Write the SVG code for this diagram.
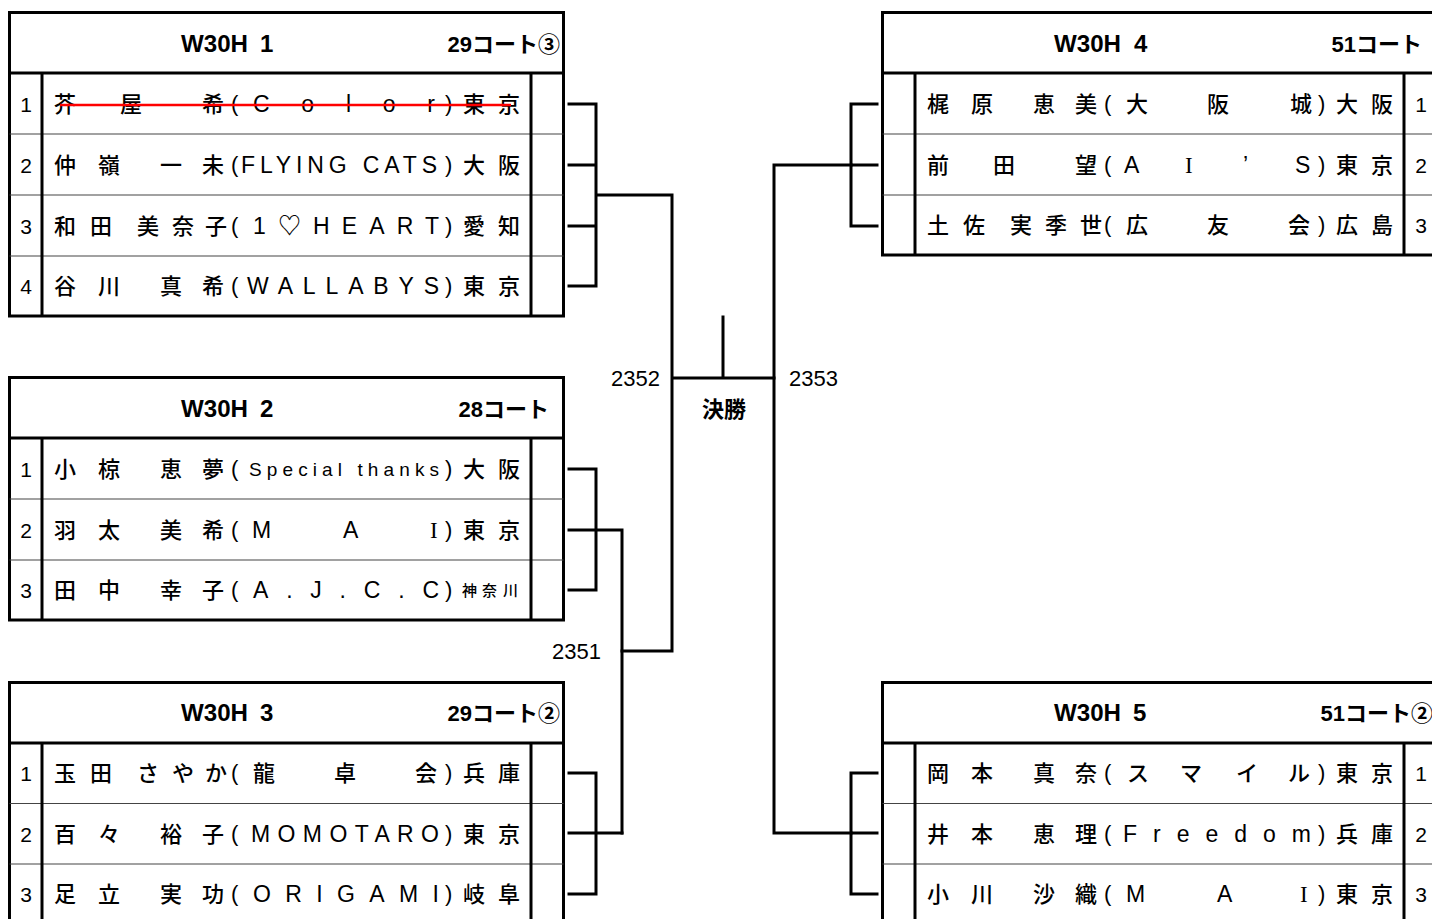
<svg xmlns="http://www.w3.org/2000/svg" width="1432" height="919" viewBox="0 0 1432 919">
<style>
.frame{fill:#fff;stroke:#000;stroke-width:3}
.thick{stroke:#000;stroke-width:3}
.thin{stroke:#444;stroke-width:1.2}
.con{fill:none;stroke:#000;stroke-width:3;stroke-linecap:square}
.t{font-family:"Liberation Sans","Noto Sans CJK JP",sans-serif;font-size:22px;font-weight:500;fill:#000}
.b{font-weight:bold}
.num{font-size:21px;font-weight:normal}
.lat{font-size:23px}
.sm{font-size:19px}
.pr{font-size:15px}
.sf{font-family:"Liberation Serif","Noto Sans CJK JP",serif;font-size:23px}
.lbl{font-size:22px;font-weight:normal}
.hd{font-size:24px}
</style>
<rect width="1432" height="919" fill="#fff"/>

<g id="connectors">
<path class="con" d="M569,104H596M569,165H596M569,226H596M569,286H596M596,104V286M596,195H672M672,195V651M622,651H672M672,378H774M723,317V378"/>
<path class="con" d="M569,469H596M569,530H596M569,590H596M596,469V590M596,530H622M622,530V833"/>
<path class="con" d="M569,773H596M569,833H596M569,894H596M596,773V894M596,833H622"/>
<path class="con" d="M774,165V833M774,165H851M774,833H851"/>
<path class="con" d="M851,104H877M851,165H877M851,226H877M851,104V226"/>
<path class="con" d="M851,773H877M851,833H877M851,894H877M851,773V894"/>
</g>

<g id="labels">
<text class="t lbl" x="660" y="386" text-anchor="end">2352</text>
<text class="t lbl" x="789" y="386">2353</text>
<text class="t lbl" x="601" y="659" text-anchor="end">2351</text>
<text class="t b" x="724" y="417" text-anchor="middle" font-size="23">決勝</text>
</g>

<g id="w30h1">
<rect class="frame" x="9.5" y="12.5" width="554" height="303.5"/>
<line class="thin" x1="9.5" y1="134" x2="563.5" y2="134"/>
<line class="thin" x1="9.5" y1="195" x2="563.5" y2="195"/>
<line class="thin" x1="9.5" y1="256" x2="563.5" y2="256"/>
<line class="thick" x1="9.5" y1="73" x2="563.5" y2="73"/>
<line class="thick" x1="42" y1="73" x2="42" y2="316"/>
<line class="thick" x1="531" y1="73" x2="531" y2="316"/>
<text class="t b hd" y="52"><tspan x="181" textLength="67" lengthAdjust="spacingAndGlyphs">W30H</tspan><tspan x="260">1</tspan></text>
<text class="t b" x="560" y="52" text-anchor="end">29コート③</text>
<text class="t num" x="26" y="112" text-anchor="middle">1</text>
<text class="t num" x="26" y="173" text-anchor="middle">2</text>
<text class="t num" x="26" y="234" text-anchor="middle">3</text>
<text class="t num" x="26" y="294" text-anchor="middle">4</text>
<text class="t" x="54 120 202" y="112">芥屋希</text>
<text class="t" x="231" y="111">(</text>
<text class="t lat" x="253" y="112" textLength="182" lengthAdjust="spacing">Color</text>
<text class="t" x="445" y="111">)</text>
<text class="t" x="463 498" y="112">東京</text>
<line x1="60" y1="105" x2="511" y2="105" stroke="#f00" stroke-width="2.5"/>
<text class="t" x="54 98 160 202" y="173">仲嶺一未</text>
<text class="t" x="231" y="172">(</text>
<text class="t lat" x="241" y="173" textLength="196" lengthAdjust="spacing">FLYING CATS</text>
<text class="t" x="445" y="172">)</text>
<text class="t" x="463 498" y="173">大阪</text>
<text class="t" x="54 90 137 172 205" y="234">和田美奈子</text>
<text class="t" x="231" y="233">(</text>
<text class="t lat" x="253" y="234" textLength="186" lengthAdjust="spacing">1♡HEART</text>
<text class="t" x="445" y="233">)</text>
<text class="t" x="463 498" y="234">愛知</text>
<text class="t" x="54 98 160 202" y="294">谷川真希</text>
<text class="t" x="231" y="293">(</text>
<text class="t lat" x="247" y="294" textLength="192" lengthAdjust="spacing">WALLABYS</text>
<text class="t" x="445" y="293">)</text>
<text class="t" x="463 498" y="294">東京</text>
</g>

<g id="w30h2">
<rect class="frame" x="9.5" y="377.5" width="554" height="242.5"/>
<line class="thin" x1="9.5" y1="499" x2="563.5" y2="499"/>
<line class="thin" x1="9.5" y1="560" x2="563.5" y2="560"/>
<line class="thick" x1="9.5" y1="438" x2="563.5" y2="438"/>
<line class="thick" x1="42" y1="438" x2="42" y2="620"/>
<line class="thick" x1="531" y1="438" x2="531" y2="620"/>
<text class="t b hd" y="417"><tspan x="181" textLength="67" lengthAdjust="spacingAndGlyphs">W30H</tspan><tspan x="260">2</tspan></text>
<text class="t b" x="549" y="417" text-anchor="end">28コート</text>
<text class="t num" x="26" y="477" text-anchor="middle">1</text>
<text class="t num" x="26" y="538" text-anchor="middle">2</text>
<text class="t num" x="26" y="598" text-anchor="middle">3</text>
<text class="t" x="54 98 160 202" y="477">小椋恵夢</text>
<text class="t" x="231" y="476">(</text>
<text class="t sm" x="249" y="476" textLength="190" lengthAdjust="spacing">Special thanks</text>
<text class="t" x="445" y="476">)</text>
<text class="t" x="463 498" y="477">大阪</text>
<text class="t" x="54 98 160 202" y="538">羽太美希</text>
<text class="t" x="231" y="537">(</text>
<text class="t lat" x="252 343" y="538">MA</text>
<text class="t sf" x="430" y="538">I</text>
<text class="t" x="445" y="537">)</text>
<text class="t" x="463 498" y="538">東京</text>
<text class="t" x="54 98 160 202" y="598">田中幸子</text>
<text class="t" x="231" y="597">(</text>
<text class="t lat" x="253" y="598" textLength="186" lengthAdjust="spacing">A.J.C.C</text>
<text class="t" x="445" y="597">)</text>
<text class="t pr" x="462 482 503" y="596">神奈川</text>
</g>

<g id="w30h3">
<rect class="frame" x="9.5" y="682.5" width="554" height="250"/>
<line class="thin" x1="9.5" y1="803.5" x2="563.5" y2="803.5"/>
<line class="thin" x1="9.5" y1="864" x2="563.5" y2="864"/>
<line class="thick" x1="9.5" y1="743" x2="563.5" y2="743"/>
<line class="thick" x1="42" y1="743" x2="42" y2="932"/>
<line class="thick" x1="531" y1="743" x2="531" y2="932"/>
<text class="t b hd" y="721"><tspan x="181" textLength="67" lengthAdjust="spacingAndGlyphs">W30H</tspan><tspan x="260">3</tspan></text>
<text class="t b" x="560" y="721" text-anchor="end">29コート②</text>
<text class="t num" x="26" y="781" text-anchor="middle">1</text>
<text class="t num" x="26" y="842" text-anchor="middle">2</text>
<text class="t num" x="26" y="902" text-anchor="middle">3</text>
<text class="t" x="54 90 137 172 205" y="781">玉田さやか</text>
<text class="t" x="231" y="780">(</text>
<text class="t" x="253 334 415" y="781">龍卓会</text>
<text class="t" x="445" y="780">)</text>
<text class="t" x="463 498" y="781">兵庫</text>
<text class="t" x="54 98 160 202" y="842">百々裕子</text>
<text class="t" x="231" y="841">(</text>
<text class="t lat" x="251" y="842" textLength="188" lengthAdjust="spacing">MOMOTARO</text>
<text class="t" x="445" y="841">)</text>
<text class="t" x="463 498" y="842">東京</text>
<text class="t" x="54 98 160 202" y="902">足立実功</text>
<text class="t" x="231" y="901">(</text>
<text class="t lat" x="253" y="902" textLength="186" lengthAdjust="spacing">ORIGAMI</text>
<text class="t" x="445" y="901">)</text>
<text class="t" x="463 498" y="902">岐阜</text>
</g>

<g id="w30h4">
<rect class="frame" x="882.5" y="12.5" width="556" height="242.5"/>
<line class="thin" x1="882.5" y1="134" x2="1438" y2="134"/>
<line class="thin" x1="882.5" y1="195" x2="1438" y2="195"/>
<line class="thick" x1="882.5" y1="73" x2="1438" y2="73"/>
<line class="thick" x1="915" y1="73" x2="915" y2="255"/>
<line class="thick" x1="1404" y1="73" x2="1404" y2="255"/>
<text class="t b hd" y="52"><tspan x="1054" textLength="67" lengthAdjust="spacingAndGlyphs">W30H</tspan><tspan x="1134">4</tspan></text>
<text class="t b" x="1422" y="52" text-anchor="end">51コート</text>
<text class="t num" x="1421" y="112" text-anchor="middle">1</text>
<text class="t num" x="1421" y="173" text-anchor="middle">2</text>
<text class="t num" x="1421" y="233" text-anchor="middle">3</text>
<text class="t" x="927 971 1033 1075" y="112">梶原恵美</text>
<text class="t" x="1104" y="111">(</text>
<text class="t" x="1126 1207 1290" y="112">大阪城</text>
<text class="t" x="1318" y="111">)</text>
<text class="t" x="1336 1371" y="112">大阪</text>
<text class="t" x="927 993 1075" y="173">前田望</text>
<text class="t" x="1104" y="172">(</text>
<text class="t lat" x="1124" y="173">A</text>
<text class="t sf" x="1185" y="173">I</text>
<text class="t lat" x="1243" y="173">’</text>
<text class="t lat" x="1295" y="173">S</text>
<text class="t" x="1318" y="172">)</text>
<text class="t" x="1336 1371" y="173">東京</text>
<text class="t" x="927 963 1010 1045 1080" y="233">土佐実季世</text>
<text class="t" x="1104" y="232">(</text>
<text class="t" x="1126 1207 1288" y="233">広友会</text>
<text class="t" x="1318" y="232">)</text>
<text class="t" x="1336 1371" y="233">広島</text>
</g>

<g id="w30h5">
<rect class="frame" x="882.5" y="682.5" width="556" height="250"/>
<line class="thin" x1="882.5" y1="803.5" x2="1438" y2="803.5"/>
<line class="thin" x1="882.5" y1="864" x2="1438" y2="864"/>
<line class="thick" x1="882.5" y1="743" x2="1438" y2="743"/>
<line class="thick" x1="915" y1="743" x2="915" y2="932"/>
<line class="thick" x1="1404" y1="743" x2="1404" y2="932"/>
<text class="t b hd" y="721"><tspan x="1054" textLength="67" lengthAdjust="spacingAndGlyphs">W30H</tspan><tspan x="1133">5</tspan></text>
<text class="t b" x="1433" y="721" text-anchor="end">51コート②</text>
<text class="t num" x="1421" y="781" text-anchor="middle">1</text>
<text class="t num" x="1421" y="842" text-anchor="middle">2</text>
<text class="t num" x="1421" y="902" text-anchor="middle">3</text>
<text class="t" x="927 971 1033 1075" y="781">岡本真奈</text>
<text class="t" x="1104" y="780">(</text>
<text class="t" x="1127 1180 1236 1288" y="781">スマイル</text>
<text class="t" x="1318" y="780">)</text>
<text class="t" x="1336 1371" y="781">東京</text>
<text class="t" x="927 971 1033 1075" y="842">井本恵理</text>
<text class="t" x="1104" y="841">(</text>
<text class="t lat" x="1123" y="842" textLength="188" lengthAdjust="spacing">Freedom</text>
<text class="t" x="1318" y="841">)</text>
<text class="t" x="1336 1371" y="842">兵庫</text>
<text class="t" x="927 971 1033 1075" y="902">小川沙織</text>
<text class="t" x="1104" y="901">(</text>
<text class="t lat" x="1126 1217" y="902">MA</text>
<text class="t sf" x="1300" y="902">I</text>
<text class="t" x="1318" y="901">)</text>
<text class="t" x="1336 1371" y="902">東京</text>
</g>
</svg>
